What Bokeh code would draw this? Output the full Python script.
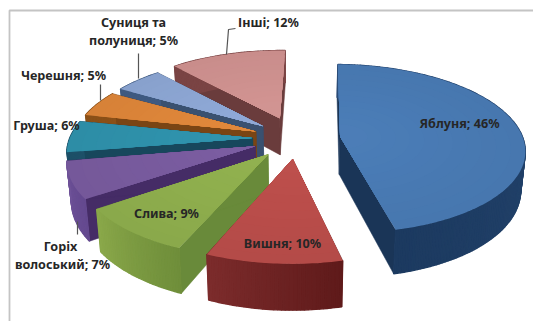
from bokeh.plotting import figure
from bokeh.embed import file_html
from bokeh.resources import INLINE
from bokeh.core.properties import value
from math import sin, cos, radians

# Orchard planting shares, clockwise from twelve o'clock
categories = ["Яблуня", "Вишня", "Слива", "Горіх волоський", "Груша",
              "Черешня", "Суниця та полуниця", "Інші"]
shares = [46, 10, 9, 7, 6, 5, 5, 12]

top_colors = ["#4a7cb6", "#bc4e4b", "#90b04e", "#7a5ca0", "#2f93ad", "#e0873a", "#8ea8d6", "#d19391"]
# Curved wall colour at the start and the end of each slice's arc
wall_from = ["#2a4c78", "#5f1a1a", "#6f8e3a", "#64498f", "#1d5068", "#8a5018", "#3f5a80", "#7a4444"]
wall_to = ["#1c3a60", "#7c2c2c", "#8aa84a", "#6e5298", "#1d5068", "#8a5018", "#3f5a80", "#7a4444"]
cut_colors = ["#1a3557", "#5f1c1c", "#698a3a", "#452c66", "#17475c", "#7a4514", "#3a5170", "#6a3c3c"]
explode_by_slice = [0.24, 0.24, 0.24, 0.24, 0.24, 0.24, 0.24, 0.27]
paint_order = [7, 6, 5, 4, 3, 0, 2, 1]

# Perspective projection of the exploded, extruded pie
CX, CY = 296, 138
SX, SY = 183, 83
PERSP = 0.145
DEPTH = 38
SHRINK = 0.98
ROTATE = 1.2
SHADE_LEVELS = 12


def project(x, y, lowered=False):
    w = 1 + PERSP * y
    px = SX * x / w
    py = -SY * y / w
    if lowered:
        return CX + px * SHRINK, CY + py + DEPTH / w
    return CX + px, CY + py


def slice_outline(start, end, explode):
    mid = radians((start + end) / 2)
    ox, oy = explode * sin(mid), explode * cos(mid)
    steps = max(6, int(end - start))
    rim = [(ox + sin(radians(start + (end - start) * i / steps)),
            oy + cos(radians(start + (end - start) * i / steps))) for i in range(steps + 1)]
    return (ox, oy), rim


def blend(c1, c2, t):
    a = [int(c1[i:i + 2], 16) for i in (1, 3, 5)]
    b = [int(c2[i:i + 2], 16) for i in (1, 3, 5)]
    return "#%02x%02x%02x" % tuple(round(u + (v - u) * t) for u, v in zip(a, b))


def tint(col, k):
    # k above 1 lightens toward white, below 1 darkens toward black
    return blend(col, "#ffffff", k - 1) if k >= 1 else blend(col, "#000000", 1 - k)


p = figure(width=533, height=321, x_range=(0, 533), y_range=(321, 0),
           output_backend="svg", toolbar_location=None, min_border=0)
p.axis.visible = False
p.grid.visible = False
p.outline_line_color = None
p.background_fill_color = "#ffffff"
p.border_fill_color = "#ffffff"

# Chart frame
p.line([9, 9, 533], [321, 10, 10], line_color="#c4c4c4", line_width=1.8)

edges = [ROTATE]
for s in shares:
    edges.append(edges[-1] + s * 3.6)

for idx in paint_order:
    apex, rim = slice_outline(edges[idx], edges[idx + 1], explode_by_slice[idx])
    # Side walls: the two cut faces, then the curved outer wall
    for a, b in [(apex, rim[0]), (apex, rim[-1])]:
        t1, t2 = project(*a), project(*b)
        b1, b2 = project(*a, lowered=True), project(*b, lowered=True)
        p.patch([t1[0], t2[0], b2[0], b1[0]], [t1[1], t2[1], b2[1], b1[1]],
                fill_color=cut_colors[idx], line_color=cut_colors[idx], line_width=0.5)
    for i, (a, b) in enumerate(zip(rim[:-1], rim[1:])):
        t1, t2 = project(*a), project(*b)
        b1, b2 = project(*a, lowered=True), project(*b, lowered=True)
        col = blend(wall_from[idx], wall_to[idx], i / (len(rim) - 2))
        p.patch([t1[0], t2[0], b2[0], b1[0]], [t1[1], t2[1], b2[1], b1[1]],
                fill_color=col, line_color=col, line_width=1.3)
    # Top face, shaded softly from the rim toward the apex
    for level in range(SHADE_LEVELS):
        t = level / (SHADE_LEVELS - 1)
        f = 1 - 0.85 * t
        pts = [project(*apex)] + [project(apex[0] + (q[0] - apex[0]) * f,
                                          apex[1] + (q[1] - apex[1]) * f) for q in rim]
        col = tint(top_colors[idx], 0.96 + 0.05 * t)
        p.patch([q[0] for q in pts], [q[1] for q in pts],
                fill_color=col, line_color=None)

# Leader lines for the labels set outside the pie
for xs, ys in [([226, 228, 235], [54, 29, 28]), ([138, 138], [78, 53]),
               ([100, 100], [100, 84]), ([77, 77], [221, 234])]:
    p.line(xs, ys, line_color="#555555", line_width=1.2)

label_rows = [
    ("Суниця та", 133, 22), ("полуниця; 5%", 133, 40), ("Інші; 12%", 268, 22),
    ("Черешня; 5%", 63, 75), ("Груша; 6%", 46, 125), ("Горіх", 60, 246),
    ("волоський; 7%", 62, 264), ("Слива; 9%", 166, 213), ("Вишня; 10%", 282, 243),
    ("Яблуня; 46%", 459, 123),
]
p.text([r[1] for r in label_rows], [r[2] for r in label_rows], text=[r[0] for r in label_rows],
       text_font=value("Noto Sans"), text_font_style="bold", text_font_size="12.6px",
       text_color="#262626", text_align="center", text_baseline="middle")

open("out.html", "w").write(file_html(p, INLINE))
